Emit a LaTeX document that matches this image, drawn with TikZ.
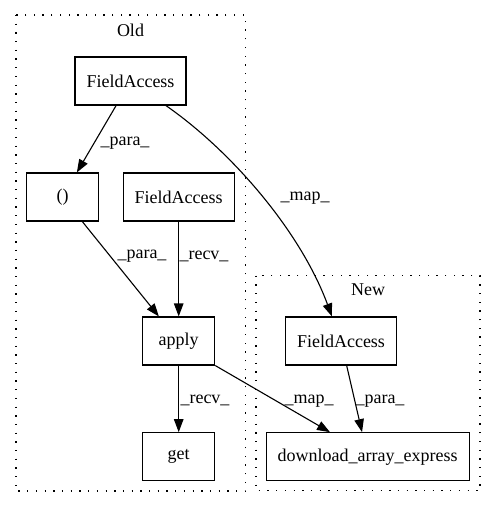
\documentclass[tikz,border=0pt]{standalone}
\usepackage{fontspec}
\setmainfont{Liberation Serif}
\usetikzlibrary{arrows.meta,calc}
\begin{document}
\begin{tikzpicture}[x=1pt,y=-1pt,
  box/.style={draw, line width=1.1pt, minimum height=48pt, inner sep=0pt, font=\fontsize{18}{22}\selectfont},
  lbl/.style={font=\fontsize{18}{22}\selectfont, inner sep=0pt},
  edge/.style={line width=1.1pt, -{Triangle[length=13pt,width=9.5pt]}},
  cluster/.style={draw, line width=1.1pt, dash pattern=on 1.3pt off 7.4pt}]
\useasboundingbox (0,0) rectangle (496,508);
% clusters
\draw[cluster] (16,15) rectangle (245.5,491);
\draw[cluster] (256,275.7) rectangle (480,490.5);
\node[lbl] (oldlbl) at (130.5,30) {Old};
\node[lbl] (newlbl) at (368,290) {New};
% nodes
\node[box, minimum width=111pt] (fa1) at (130.5,81) {FieldAccess};
\node[box, minimum width=71.5pt] (paren) at (62.5,197) {()};
\node[box, minimum width=111pt] (fa2) at (178.7,197) {FieldAccess};
\node[box, minimum width=72pt] (apply) at (178.7,341) {apply};
\node[box, minimum width=72pt] (get) at (178.7,456.7) {get};
\node[box, minimum width=111.7pt] (fa3) at (341,341) {FieldAccess};
\node[box, minimum width=203.3pt] (dl) at (367.7,456.7) {download\_array\_express};
% edges
\draw[edge] (fa1) -- (paren);
\draw[edge] (fa1) .. controls (230,150) and (300,230) .. (fa3);
\draw[edge] (paren) -- (apply);
\draw[edge] (fa2) -- (apply);
\draw[edge] (apply) -- (get);
\draw[edge] (apply.south east) -- ($(dl.north)+(-37.7,0)$);
\draw[edge] (fa3) -- (dl);
% edge labels
\node[lbl] (l1) at (125,143) {\_para\_};
\node[lbl] (l2) at (305,198) {\_map\_};
\node[lbl] (l3) at (142,256) {\_para\_};
\node[lbl] (l4) at (204,256) {\_recv\_};
\node[lbl] (l5) at (205,400) {\_recv\_};
\node[lbl] (l6) at (309,401) {\_map\_};
\node[lbl] (l7) at (380,401) {\_para\_};
\end{tikzpicture}
\end{document}
